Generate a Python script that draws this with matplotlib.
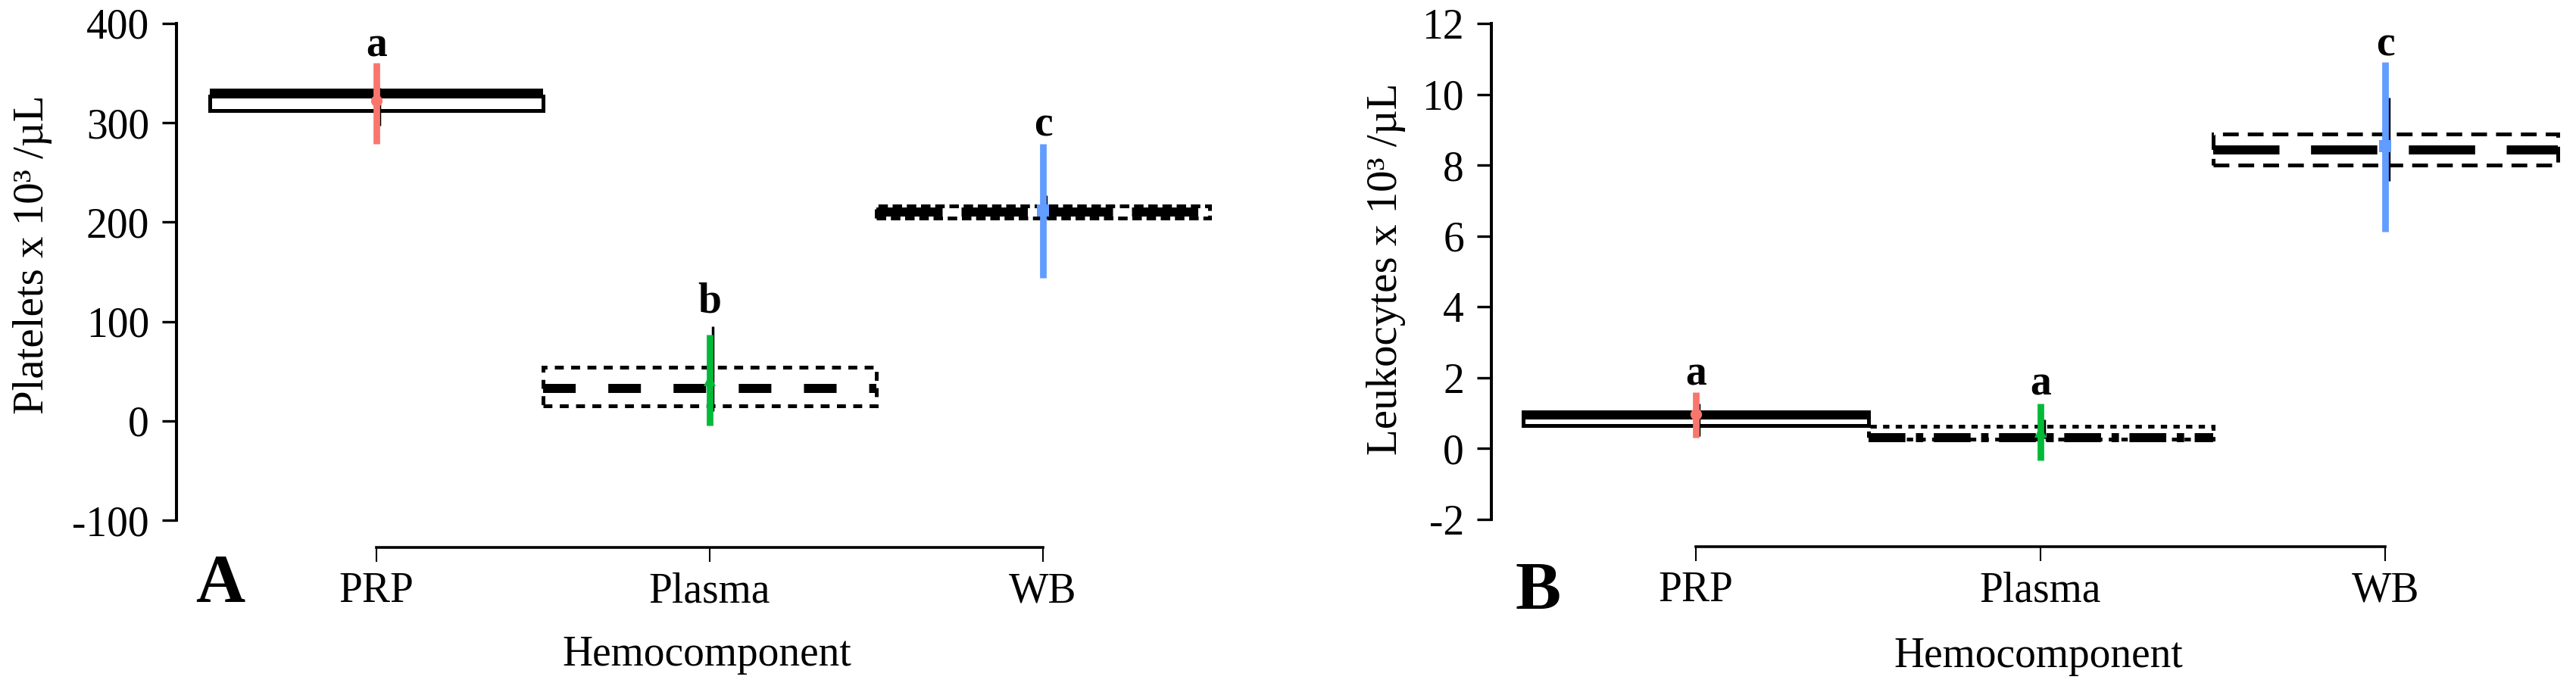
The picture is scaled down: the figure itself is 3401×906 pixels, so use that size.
import matplotlib
matplotlib.use("Agg")
import matplotlib.pyplot as plt
from matplotlib.patches import Rectangle

plt.rcParams["font.family"] = ["Liberation Serif", "DejaVu Serif"]
plt.rcParams["lines.scale_dashes"] = False
plt.rcParams["axes.unicode_minus"] = False

categories = ["PRP", "Plasma", "WB"]
colors = ["#F8766D", "#00BA38", "#619CFF"]
markers = ["o", "^", "s"]
letters_plt = ["a", "b", "c"]
letters_leu = ["a", "a", "c"]

# platelets (x10^3/uL)
plt_box_lo = [312, 15, 204]
plt_box_hi = [327, 54, 216]
plt_mean = [330, 33, 210]
plt_pt = [322, 41, 212]
plt_sd_lo = [279, -5, 144]
plt_sd_hi = [360, 87, 279]
plt_blk_lo = [297, 10, 203]
plt_blk_hi = [335, 95, 227]
plt_letter_y = [367, 109, 287]

# leukocytes (x10^3/uL)
leu_box_lo = [0.66, 0.27, 8.01]
leu_box_hi = [1.03, 0.62, 8.89]
leu_mean = [0.95, 0.30, 8.42]
leu_pt = [0.98, 0.47, 8.53]
leu_sd_lo = [0.30, -0.33, 6.13]
leu_sd_hi = [1.60, 1.28, 10.90]
leu_blk_lo = [0.36, 0.28, 7.56]
leu_blk_hi = [1.28, 0.83, 9.90]
leu_letter_y = [1.79, 1.52, 11.09]

# linestyles per panel: (box outline, mean line)
styles_plt = [("-", "-"),
              ((0, (8.5, 7)), (0, (31, 31))),
              ((0, (9, 4.5)), (0, (63, 18)))]
styles_leu = [("-", "-"),
              ((0, (6, 6)), (0, (35, 10, 7, 10))),
              ((0, (15, 8.6)), (0, (63, 30)))]

W, H = 3401, 906
fig = plt.figure(figsize=(W / 100, H / 100), dpi=100)

ax1 = fig.add_axes([233 / W, 1 - 687 / H, 1386 / W, 656 / H])
ax2 = fig.add_axes([1969 / W, 1 - 686 / H, 1417 / W, 655 / H])


def draw(ax, lo, hi, mean, pt, sd_lo, sd_hi, blk_lo, blk_hi, letters, letter_y,
         styles, ylim, yticks, ylabel, xlim, xlab_xy, ylab_xy):
    for i in range(len(categories)):
        box_ls, mean_ls = styles[i]
        ax.add_patch(Rectangle((i - 0.5, lo[i]), 1.0, hi[i] - lo[i],
                               facecolor="none", edgecolor="black",
                               linewidth=3.6, linestyle=box_ls, zorder=2))
        ax.plot([i - 0.5, i + 0.5], [mean[i], mean[i]], color="black",
                linewidth=8.6, linestyle=mean_ls, solid_capstyle="butt",
                dash_capstyle="butt", zorder=3)
        ax.plot([i + 0.01, i + 0.01], [blk_lo[i], blk_hi[i]], color="black",
                linewidth=2.5, solid_capstyle="butt", zorder=4)
        ax.plot([i, i], [sd_lo[i], sd_hi[i]], color=colors[i], linewidth=6.3,
                solid_capstyle="butt", zorder=5)
        ax.plot([i], [pt[i]], marker=markers[i], color=colors[i],
                markersize=11, markeredgewidth=0, zorder=6)
        ax.text(i, letter_y[i], letters[i], ha="center", va="baseline",
                fontsize=40, fontweight="bold", zorder=7)

    ax.set_xlim(*xlim)
    ax.set_ylim(*ylim)
    ax.set_yticks(yticks)
    ax.set_xticks(range(len(categories)))
    ax.set_xticklabels(categories)
    for s in ["top", "right"]:
        ax.spines[s].set_visible(False)
    ax.spines["left"].set_bounds(ylim[0], ylim[1])
    ax.spines["left"].set_linewidth(2.9)
    ax.spines["bottom"].set_position(("outward", 26))
    ax.spines["bottom"].set_bounds(0, len(categories) - 1)
    ax.spines["bottom"].set_linewidth(2.6)
    ax.tick_params(axis="y", direction="out", length=14, width=2.4,
                   labelsize=40, pad=12)
    ax.tick_params(axis="x", direction="out", length=14, width=1.5,
                   labelsize=40, pad=9)
    ax.set_ylabel(ylabel, fontsize=41)
    ax.yaxis.set_label_coords(*ylab_xy)
    ax.set_xlabel("Hemocomponent", fontsize=40)
    ax.xaxis.set_label_coords(*xlab_xy)


draw(ax1, plt_box_lo, plt_box_hi, plt_mean, plt_pt, plt_sd_lo, plt_sd_hi,
     plt_blk_lo, plt_blk_hi, letters_plt, plt_letter_y, styles_plt,
     (-100, 400), [-100, 0, 100, 200, 300, 400], "Platelets x 10³ /µL",
     (-0.6, 2.55), (0.505, -0.232), (-0.118, 0.535))
draw(ax2, leu_box_lo, leu_box_hi, leu_mean, leu_pt, leu_sd_lo, leu_sd_hi,
     leu_blk_lo, leu_blk_hi, letters_leu, leu_letter_y, styles_leu,
     (-2, 12), [-2, 0, 2, 4, 6, 8, 10, 12], "Leukocytes x 10³ /µL",
     (-0.593, 2.52), (0.51, -0.236), (-0.08, 0.505))

fig.text(291 / W, 1 - 795 / H, "A", ha="center", va="baseline",
         fontsize=65, fontweight="bold")
fig.text(2031 / W, 1 - 805 / H, "B", ha="center", va="baseline",
         fontsize=65, fontweight="bold")

fig.savefig("out.png", dpi=100)
